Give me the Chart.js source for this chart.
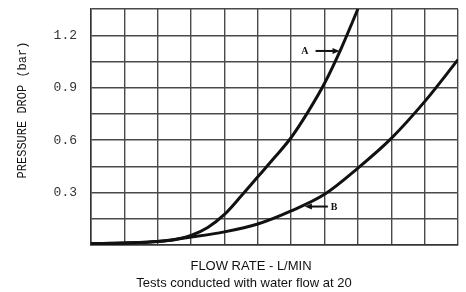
<!DOCTYPE html>
<html>
<head>
<meta charset="utf-8">
<script src="https://cdn.jsdelivr.net/npm/chart.js@4"></script>
<style>
  html, body { margin: 0; padding: 0; background: #fff; }
  #wrap { width: 466px; height: 292px; }
</style>
</head>
<body>
<div id="wrap"><canvas id="flowChart" width="466" height="292"></canvas></div>
<script>
// flow rate steps (grid columns) and pressure drop in bar
const flowA = [0, 1, 2, 2.5, 3, 3.5, 4, 4.5, 5, 5.5, 6, 6.5, 7, 7.5, 8];
const dropA = [0.008, 0.012, 0.02, 0.03, 0.055, 0.1, 0.175, 0.28, 0.39, 0.5, 0.615, 0.76, 0.925, 1.125, 1.35];
const flowB = [0, 1, 2, 3, 4, 5, 6, 7, 8, 9, 10, 11];
const dropB = [0.008, 0.012, 0.02, 0.045, 0.075, 0.12, 0.195, 0.29, 0.44, 0.61, 0.82, 1.06];
const yTickLabels = [0.3, 0.6, 0.9, 1.2];

// where the little "A ->" and "<- B" markers point (data units)
const markA = { x: 7.45, y: 1.11 };
const markB = { x: 6.41, y: 0.22 };

const toPoints = (xs, ys) => xs.map((x, i) => ({ x: x, y: ys[i] }));

const gridColor = '#4a4a4a';

// text and arrows that Chart.js has no built-in place for
const extrasPlugin = {
    id: 'extras',
    afterDraw(chart) {
        const c = chart.ctx;
        const xs = chart.scales.x, ys = chart.scales.y;
        c.save();
        c.fillStyle = '#111';
        c.strokeStyle = '#111';

        // y title
        c.save();
        c.translate(23, 110);
        c.rotate(-Math.PI / 2);
        c.font = '12px "Liberation Mono"';
        c.textAlign = 'center';
        c.textBaseline = 'middle';
        c.fillText('PRESSURE DROP (bar)', 0, 0);
        c.restore();

        // x title lines
        c.font = '13px "Liberation Sans"';
        c.textAlign = 'center';
        c.textBaseline = 'middle';
        c.fillText('FLOW RATE - L/MIN', 251, 266);
        c.fillText('Tests conducted with water flow at 20', 244, 283);

        // A marker
        let px = xs.getPixelForValue(markA.x), py = ys.getPixelForValue(markA.y);
        c.font = 'bold 10px "Liberation Serif"';
        c.textAlign = 'right';
        c.fillText('A', px - 31, py);
        c.lineWidth = 2;
        c.beginPath();
        c.moveTo(px - 24, py);
        c.lineTo(px - 4, py);
        c.stroke();
        c.beginPath();
        c.moveTo(px, py);
        c.lineTo(px - 7, py - 3);
        c.lineTo(px - 7, py + 3);
        c.closePath();
        c.fill();

        // B marker
        px = xs.getPixelForValue(markB.x); py = ys.getPixelForValue(markB.y);
        c.beginPath();
        c.moveTo(px + 4, py);
        c.lineTo(px + 23, py);
        c.stroke();
        c.beginPath();
        c.moveTo(px, py);
        c.lineTo(px + 7, py - 3);
        c.lineTo(px + 7, py + 3);
        c.closePath();
        c.fill();
        c.textAlign = 'left';
        c.fillText('B', px + 26, py + 1);
        c.restore();
    }
};

const ctx = document.getElementById('flowChart').getContext('2d');

const flowChart = new Chart(ctx, {
    type: 'line',
    data: {
        datasets: [
            { label: 'A', data: toPoints(flowA, dropA) },
            { label: 'B', data: toPoints(flowB, dropB) }
        ]
    },
    options: {
        responsive: false,
        animation: false,
        layout: { padding: { top: 9, right: 8, left: 0, bottom: 0 } },
        elements: {
            line: { borderColor: '#111', borderWidth: 3, cubicInterpolationMode: 'monotone', fill: false },
            point: { radius: 0 }
        },
        plugins: {
            legend: { display: false },
            tooltip: { enabled: false }
        },
        scales: {
            x: {
                type: 'linear',
                min: 0,
                max: 11,
                ticks: { display: false, stepSize: 1 },
                grid: { color: gridColor, lineWidth: 1.4, drawTicks: false },
                border: { color: '#333', width: 1.5 },
                afterFit(axis) { axis.height = 47; }
            },
            y: {
                min: 0,
                max: 1.35,
                ticks: {
                    stepSize: 0.15,
                    padding: 14,
                    color: '#333',
                    font: { family: 'Liberation Mono', size: 13 },
                    callback(v) {
                        const hit = yTickLabels.find(t => Math.abs(t - v) < 0.001);
                        return hit ? hit.toFixed(1) : '';
                    }
                },
                grid: { color: gridColor, lineWidth: 1.4, drawTicks: false },
                border: { color: '#333', width: 1.5 },
                afterFit(axis) {
                    axis.width = 91;
                    axis.paddingTop = 0;
                    axis.paddingBottom = 0;
                }
            }
        }
    },
    plugins: [extrasPlugin]
});
</script>
</body>
</html>
